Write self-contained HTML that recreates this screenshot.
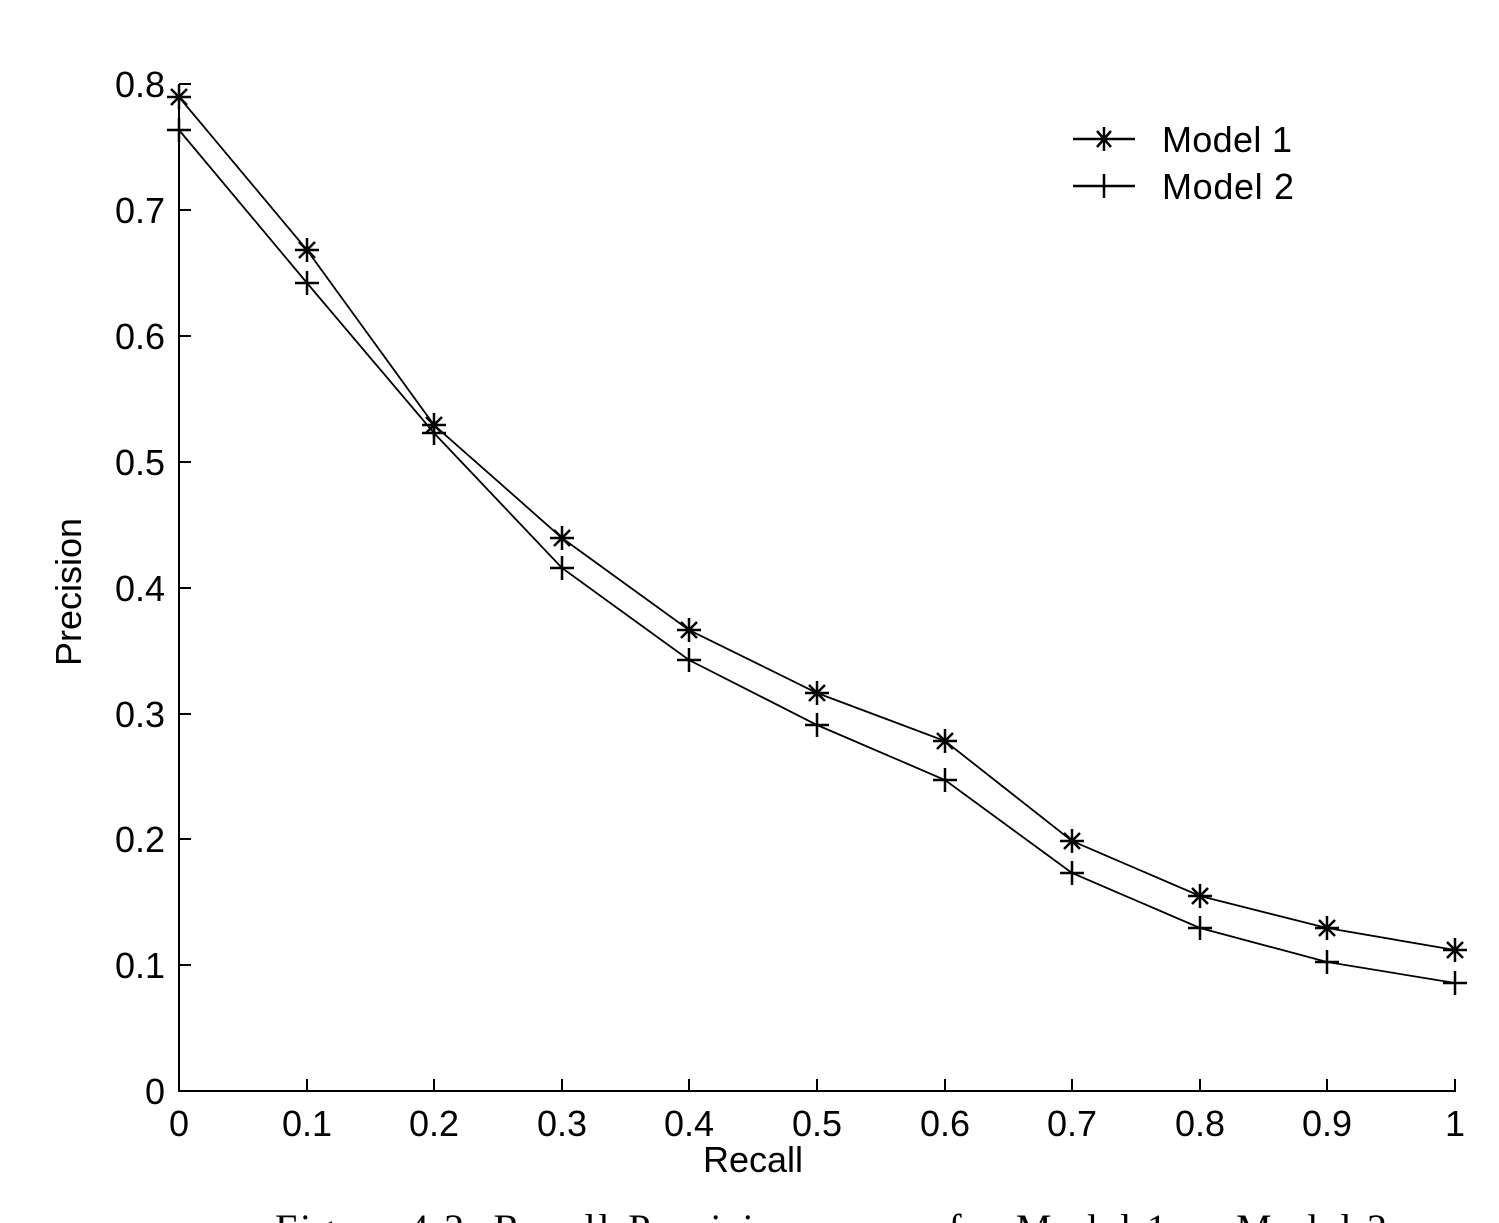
<!DOCTYPE html>
<html><head><style>body{margin:0;background:#fff}svg{display:block}</style></head><body>
<svg width="1499" height="1223" xmlns="http://www.w3.org/2000/svg" font-family="Liberation Sans, Arial, sans-serif">
<rect width="1499" height="1223" fill="#fff"/>
<g stroke="#000" stroke-width="2" fill="none">
<line x1="179" y1="84" x2="179" y2="1092"/>
<line x1="178" y1="1091" x2="1456" y2="1091"/>
<path d="M179 84h12M179 210h12M179 336h12M179 462h12M179 588h12M179 714h12M179 839h12M179 965h12"/>
<path d="M307 1091v-12M434 1091v-12M562 1091v-12M689 1091v-12M817 1091v-12M945 1091v-12M1072 1091v-12M1200 1091v-12M1327 1091v-12M1455 1091v-12"/>
<polyline stroke-width="1.8" points="179,97 307,250 434,425 562,538 689,630 817,693 945,741 1072,841 1200,896 1327,928 1455,950"/>
<polyline stroke-width="1.8" points="179,130 307,283 434,433 562,568 689,660 817,725 945,780 1072,873 1200,928 1327,962 1455,983"/>
</g>
<g stroke="#000" stroke-width="2.5" fill="none">
<path d="M179 85v24M167 97h24M171 89l16 16M187 89l-16 16"/>
<path d="M307 238v24M295 250h24M299 242l16 16M315 242l-16 16"/>
<path d="M434 413v24M422 425h24M426 417l16 16M442 417l-16 16"/>
<path d="M562 526v24M550 538h24M554 530l16 16M570 530l-16 16"/>
<path d="M689 618v24M677 630h24M681 622l16 16M697 622l-16 16"/>
<path d="M817 681v24M805 693h24M809 685l16 16M825 685l-16 16"/>
<path d="M945 729v24M933 741h24M937 733l16 16M953 733l-16 16"/>
<path d="M1072 829v24M1060 841h24M1064 833l16 16M1080 833l-16 16"/>
<path d="M1200 884v24M1188 896h24M1192 888l16 16M1208 888l-16 16"/>
<path d="M1327 916v24M1315 928h24M1319 920l16 16M1335 920l-16 16"/>
<path d="M1455 938v24M1443 950h24M1447 942l16 16M1463 942l-16 16"/>
</g>
<g stroke="#000" stroke-width="2.5" fill="none">
<path d="M179 118v24M167 130h24M307 271v24M295 283h24M434 421v24M422 433h24M562 556v24M550 568h24M689 648v24M677 660h24M817 713v24M805 725h24M945 768v24M933 780h24M1072 861v24M1060 873h24M1200 916v24M1188 928h24M1327 950v24M1315 962h24M1455 971v24M1443 983h24"/>
<path d="M1073 139h62M1104 127v24M1093 139h22M1097 131l14 16M1111 131l-14 16"/>
<path d="M1073 186h62M1104 174v24"/>
</g>
<g font-size="36" fill="#000">
<text x="1162" y="152" textLength="130">Model 1</text>
<text x="1162" y="199" textLength="132">Model 2</text>
<g text-anchor="end">
<text x="165" y="97">0.8</text><text x="165" y="223">0.7</text><text x="165" y="349">0.6</text><text x="165" y="475">0.5</text><text x="165" y="601">0.4</text><text x="165" y="727">0.3</text><text x="165" y="852">0.2</text><text x="165" y="978">0.1</text><text x="165" y="1104">0</text>
</g>
<g text-anchor="middle">
<text x="179" y="1136">0</text><text x="307" y="1136">0.1</text><text x="434" y="1136">0.2</text><text x="562" y="1136">0.3</text><text x="689" y="1136">0.4</text><text x="817" y="1136">0.5</text><text x="945" y="1136">0.6</text><text x="1072" y="1136">0.7</text><text x="1200" y="1136">0.8</text><text x="1327" y="1136">0.9</text><text x="1455" y="1136">1</text>
<text x="753" y="1172" font-size="36">Recall</text>
<text transform="translate(81,592) rotate(-90)" font-size="36">Precision</text>
</g>
</g>
<text x="275" y="1242" font-family="Liberation Serif, serif" font-size="40" fill="#000" textLength="1112" lengthAdjust="spacing">Figure 4.2: Recall-Precision curves for Model 1 vs Model 2</text>
</svg>
</body></html>
